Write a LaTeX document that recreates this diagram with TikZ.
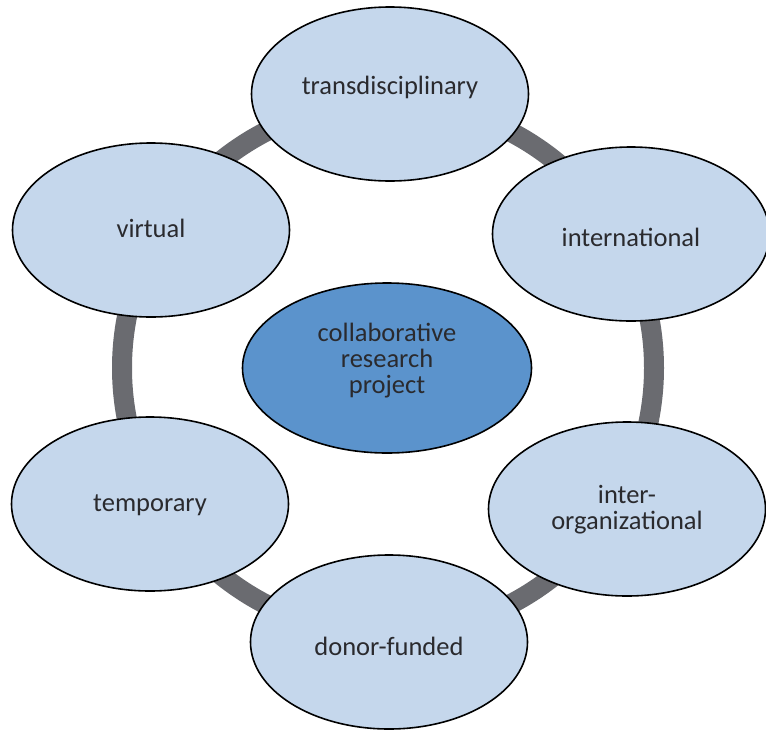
\documentclass[tikz,border=0pt]{standalone}
\usepackage{fontspec}
\setmainfont{Carlito}
\usetikzlibrary{shapes.geometric}
\definecolor{lightfill}{HTML}{C5D7EC}
\definecolor{darkfill}{HTML}{5B93CC}
\definecolor{ringgray}{HTML}{6A6B70}
\definecolor{txt}{HTML}{2A2A2E}
\begin{document}
\begin{tikzpicture}[x=1pt,y=-1pt,
  outer/.style={ellipse,draw=black,line width=1.6pt,fill=lightfill,minimum width=277pt,minimum height=174pt,inner sep=0pt},
  centre/.style={outer,fill=darkfill,minimum width=289pt,minimum height=170pt},
  lbl/.style={text=txt,font=\fontsize{26.5}{26}\selectfont,align=center,inner sep=0pt},
  ring/.style={draw=ringgray,line width=20pt}]
\useasboundingbox (0,0) rectangle (766,729);
\coordinate (rc) at (388,368);
\draw[ring] (rc) circle[radius=266pt];
\node[centre] (c) at (387,368) {};
\node[outer] (t) at (390,94) {};
\node[outer] (i) at (631,234) {};
\node[outer] (o) at (627,509) {};
\node[outer] (d) at (389,642) {};
\node[outer] (p) at (150,504) {};
\node[outer] (v) at (151,230) {};
\node[lbl] (ct) at (387,361) {collaborative\\research\\project};
\node[lbl] (tt) at (390,87) {transdisciplinary};
\node[lbl] (it) at (631,237) {international};
\node[lbl] (ot) at (627,509.5) {inter-\\organizational};
\node[lbl] (dt) at (389,646) {donor-funded};
\node[lbl] (pt) at (150,505) {temporary};
\node[lbl] (vt) at (151,228) {virtual};
\end{tikzpicture}
\end{document}
